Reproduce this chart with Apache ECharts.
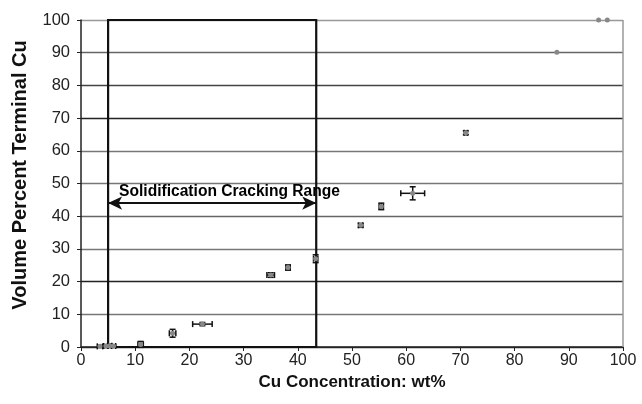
<!DOCTYPE html>
<html>
<head>
<meta charset="utf-8">
<script src="https://cdn.jsdelivr.net/npm/echarts@6/dist/echarts.min.js"></script>
<style>
  html, body { margin: 0; padding: 0; background: #fff; }
  #chart { width: 642px; height: 404px; }
</style>
</head>
<body>
<div id="chart"></div>
<script>
// measured points: Cu wt% vs volume percent terminal Cu
const cuConc = [3.5, 4.6, 5.3, 6.0, 11.0, 16.9, 22.4, 35.0, 38.2, 43.3, 51.6, 55.4, 61.2, 71.0, 87.8, 95.5, 97.1];
const volPct = [0.2, 0.3, 0.4, 0.3, 0.8, 4.2, 7.0, 22.0, 24.3, 27.0, 37.2, 43.0, 47.0, 65.5, 90.1, 100, 100];
const xErr = [0.5, 0.4, 0.4, 0.4, 0.5, 0.6, 1.8, 0.7, 0.4, 0.4, 0.4, 0.4, 2.2, 0.3, 0, 0, 0];
const yErr = [0.3, 0.4, 0.4, 0.3, 0.9, 1.2, 0.5, 0.7, 0.8, 1.2, 0.6, 1.0, 2.0, 0.6, 0, 0, 0];
const xTicks = [0, 10, 20, 30, 40, 50, 60, 70, 80, 90, 100];
const yTicks = [0, 10, 20, 30, 40, 50, 60, 70, 80, 90, 100];
const rangeStart = 5;
const rangeEnd = 43.4;
const rangeArrowY = 44;
const rangeLabel = "Solidification Cracking Range";
const rangeLabelPos = [27.4, 47.4];

const chart = echarts.init(document.getElementById("chart"), null, { renderer: "canvas" });

const font = "Liberation Sans, Arial, sans-serif";
const points = cuConc.map((x, i) => [x, volPct[i], xErr[i], yErr[i]]);

const renderErrorBar = (params, api) => {
    const x = api.value(0);
    const y = api.value(1);
    const xe = api.value(2);
    const ye = api.value(3);
    const children = [];
    const style = { stroke: "#111", lineWidth: 1.5 };
    const cap = 3;
    if (xe > 0) {
        const a = api.coord([x - xe, y]);
        const b = api.coord([x + xe, y]);
        children.push({ type: "line", shape: { x1: a[0], y1: a[1], x2: b[0], y2: b[1] }, style });
        children.push({ type: "line", shape: { x1: a[0], y1: a[1] - cap, x2: a[0], y2: a[1] + cap }, style });
        children.push({ type: "line", shape: { x1: b[0], y1: b[1] - cap, x2: b[0], y2: b[1] + cap }, style });
    }
    if (ye > 0) {
        const a = api.coord([x, y - ye]);
        const b = api.coord([x, y + ye]);
        children.push({ type: "line", shape: { x1: a[0], y1: a[1], x2: b[0], y2: b[1] }, style });
        children.push({ type: "line", shape: { x1: a[0] - cap, y1: a[1], x2: a[0] + cap, y2: a[1] }, style });
        children.push({ type: "line", shape: { x1: b[0] - cap, y1: b[1], x2: b[0] + cap, y2: b[1] }, style });
    }
    return { type: "group", children };
};

chart.setOption({
    animation: false,
    grid: { left: 81, right: 19, top: 20, bottom: 57 },
    xAxis: {
        type: "value",
        min: xTicks[0],
        max: xTicks[xTicks.length - 1],
        interval: 10,
        name: "Cu Concentration: wt%",
        nameLocation: "middle",
        nameGap: 20,
        nameTextStyle: { fontFamily: font, fontSize: 17, fontWeight: "bold", color: "#111", verticalAlign: "top" },
        axisLine: { lineStyle: { color: "#222", width: 1.5 } },
        axisTick: { show: true, length: 4, lineStyle: { color: "#222" } },
        axisLabel: { fontFamily: font, fontSize: 16, color: "#222", margin: 6 },
        splitLine: { show: false }
    },
    yAxis: {
        type: "value",
        min: yTicks[0],
        max: yTicks[yTicks.length - 1],
        interval: 10,
        axisLine: { show: true, lineStyle: { color: "#222", width: 1.5 } },
        axisTick: { show: true, length: 4, lineStyle: { color: "#222" } },
        axisLabel: { fontFamily: font, fontSize: 16.5, color: "#222", margin: 11 },
        splitLine: {
            show: true,
            lineStyle: {
                color: ["#333", "#777", "#222", "#777", "#666", "#777", "#777", "#222", "#444", "#666", "#999"],
                width: 1.3
            }
        }
    },
    graphic: [
        {
            type: "text",
            x: 20,
            y: 175,
            rotation: Math.PI / 2,
            style: {
                text: "Volume Percent Terminal Cu",
                font: "bold 20px " + font,
                fill: "#111",
                align: "center",
                verticalAlign: "middle"
            }
        }
    ],
    series: [
        {
            type: "scatter",
            data: points.map((p) => [p[0], p[1]]),
            symbol: "circle",
            symbolSize: 5,
            itemStyle: { color: "#888", opacity: 1 },
            z: 6,
            markArea: {
                silent: true,
                itemStyle: { color: "rgba(0,0,0,0)", borderColor: "#111", borderWidth: 2.2 },
                data: [[{ xAxis: rangeStart, yAxis: 0 }, { xAxis: rangeEnd, yAxis: 100 }]]
            },
            markLine: {
                silent: true,
                symbol: "none",
                label: { show: false },
                lineStyle: { color: "#999", width: 1.5, type: "solid" },
                data: [{ xAxis: 100 }]
            }
        },
        {
            type: "custom",
            renderItem: renderErrorBar,
            data: points,
            z: 5,
            encode: { x: 0, y: 1 }
        },
        {
            type: "line",
            data: [[rangeStart, rangeArrowY], [rangeEnd, rangeArrowY]],
            symbol: "none",
            lineStyle: { color: "#111", width: 2 },
            z: 3,
            markLine: {
                silent: true,
                symbol: ["arrow", "arrow"],
                symbolSize: [10, 14],
                label: { show: false },
                lineStyle: { color: "#111", width: 2, type: "solid" },
                data: [[{ coord: [rangeStart, rangeArrowY] }, { coord: [rangeEnd, rangeArrowY] }]]
            }
        },
        {
            type: "scatter",
            data: [{ value: rangeLabelPos, name: rangeLabel }],
            symbolSize: 1,
            itemStyle: { color: "rgba(0,0,0,0)" },
            silent: true,
            z: 7,
            label: {
                show: true,
                position: "inside",
                formatter: "{b}",
                fontFamily: font,
                fontSize: 15.6,
                fontWeight: "bold",
                color: "#000",
                opacity: 1
            }
        }
    ]
});
</script>
</body>
</html>
